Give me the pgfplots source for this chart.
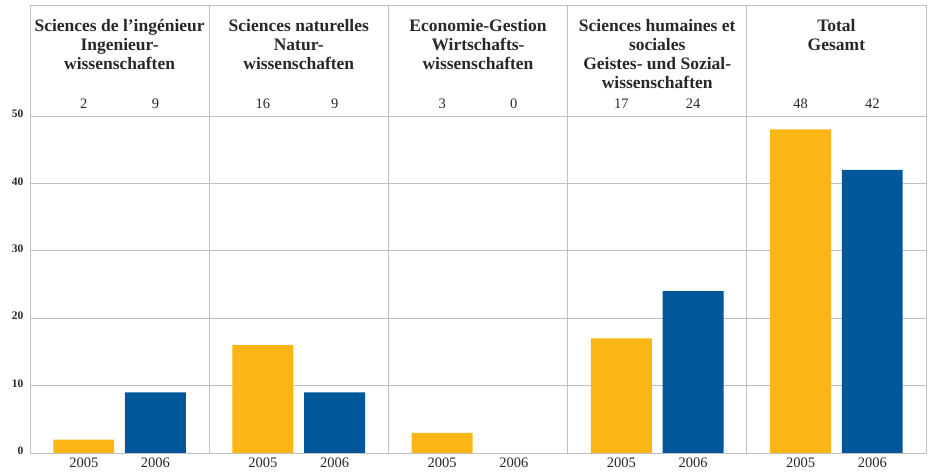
\documentclass[border=0pt]{standalone}
\usepackage{pgfplots}
\pgfplotsset{compat=1.18}
\usepackage{pgfplotstable}
\usepackage{fontspec}
\setmainfont{Liberation Serif}
\definecolor{cyel}{RGB}{251,182,22}
\definecolor{cblu}{RGB}{0,88,154}
\definecolor{cgrid}{RGB}{192,192,192}
\definecolor{ctxt}{RGB}{40,40,40}
\pgfplotstableread{
x v
0.3 2
1.3 16
2.3 3
3.3 17
4.3 48
}\yA
\pgfplotstableread{
x v
0.7 9
1.7 9
2.7 0
3.7 24
4.7 42
}\yB
\begin{document}
\begin{tikzpicture}
\useasboundingbox (0,0) rectangle (928pt,473pt);
\begin{axis}[
 at={(30pt,20pt)}, anchor=south west, scale only axis, width=896pt, height=448pt,
 xmin=0, xmax=5, ymin=0, ymax=66.47,
 axis line style={cgrid, line width=0.9pt},
 xtick={0.3,0.7,1.3,1.7,2.3,2.7,3.3,3.7,4.3,4.7},
 xticklabels={2005,2006,2005,2006,2005,2006,2005,2006,2005,2006},
 ytick={0,10,...,50},
 ymajorgrids, grid style={cgrid, line width=0.9pt},
 major tick length=0pt,
 extra x ticks={1,2,3,4}, extra x tick labels={}, extra x tick style={grid=major},
 /pgf/number format/assume math mode=true,
 xticklabel style={font=\fontsize{14.5}{14.5}\selectfont, text=ctxt, yshift=-1.5pt},
 yticklabel style={font=\bfseries\fontsize{11.5}{11.5}\selectfont, text=ctxt, xshift=-3pt, yshift=2pt},
 clip=false,
 every node near coord/.append style={anchor=center, font=\fontsize{14.5}{14.5}\selectfont, text=ctxt},
]
\addplot[ybar, bar shift=0pt, bar width=0.34, fill=cyel, draw=none] table[x=x,y=v]{\yA};
\addplot[ybar, bar shift=0pt, bar width=0.34, fill=cblu, draw=none, unbounded coords=discard, y filter/.expression={y==0 ? nan : y}] table[x=x,y=v]{\yB};
\addplot[draw=none, mark=none, nodes near coords, point meta=\thisrow{v}] table[x=x, y expr=51.85]{\yA};
\addplot[draw=none, mark=none, nodes near coords, point meta=\thisrow{v}] table[x=x, y expr=51.85]{\yB};
\tikzset{hdr/.style={anchor=north, align=center, inner sep=0pt, text=ctxt, font=\bfseries\fontsize{17.5}{19}\selectfont}}
\node[hdr] at (axis cs:0.5,64.4) {Sciences de l’ingénieur\\Ingenieur-\\wissenschaften};
\node[hdr] at (axis cs:1.5,64.4) {Sciences naturelles\\Natur-\\wissenschaften};
\node[hdr] at (axis cs:2.5,64.4) {Economie-Gestion\\Wirtschafts-\\wissenschaften};
\node[hdr] at (axis cs:3.5,64.4) {Sciences humaines et\\sociales\\Geistes- und Sozial-\\wissenschaften};
\node[hdr] at (axis cs:4.5,64.4) {Total\\Gesamt};
\end{axis}
\end{tikzpicture}
\end{document}
